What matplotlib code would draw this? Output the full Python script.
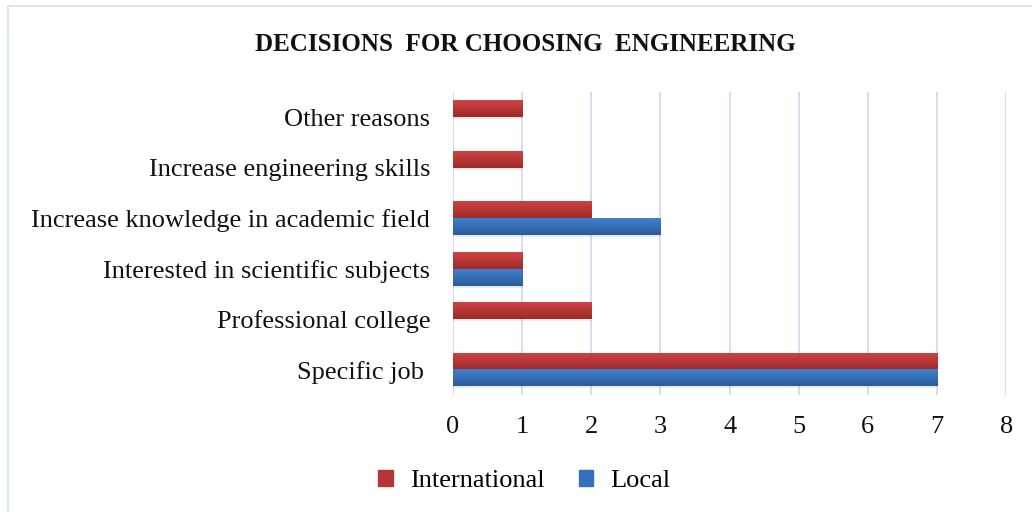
import matplotlib
matplotlib.use("Agg")
import matplotlib.pyplot as plt
import numpy as np
from matplotlib.colors import LinearSegmentedColormap
from matplotlib.patches import Rectangle

# Dati
categorie = ["Specific job ", "Professional college", "Interested in scientific subjects",
             "Increase knowledge in academic field", "Increase engineering skills", "Other reasons"]
international = [7, 2, 1, 2, 1, 1]
local = [7, 0, 1, 3, 0, 0]
tick_x = [0, 1, 2, 3, 4, 5, 6, 7, 8]

plt.rcParams["font.family"] = ["Liberation Serif", "DejaVu Serif"]

fig = plt.figure(figsize=(10.32, 5.12), dpi=100)
ax = fig.add_axes([0.439, 0.229, 0.536, 0.591])

# Bordo della figura
fig.patches.append(Rectangle((0.008, -0.01), 1.2, 0.999, transform=fig.transFigure,
                             fill=False, edgecolor="#D5E0EE", linewidth=1.2))

y = np.arange(len(categorie))
h = 0.336
barre_int = ax.barh(y + h / 2, international, height=h, color="#C83A3A", zorder=2)
barre_loc = ax.barh(y - h / 2, local, height=h, color="#3A72BE", zorder=2)

# Sfumatura verticale stile Excel
grad_rosso = LinearSegmentedColormap.from_list("r", ["#9C2A2A", "#D04242"])
grad_blu = LinearSegmentedColormap.from_list("b", ["#2C5C98", "#3F7FCF"])
grad = np.linspace(0, 1, 50).reshape(-1, 1)
for barre, cmap in [(barre_int, grad_rosso), (barre_loc, grad_blu)]:
    for b in barre:
        if b.get_width() <= 0:
            continue
        x0, y0 = b.get_x(), b.get_y()
        ax.imshow(grad, cmap=cmap, origin="lower", aspect="auto",
                  extent=[x0, x0 + b.get_width(), y0, y0 + b.get_height()], zorder=3)
        # ombra leggera
        ax.add_patch(Rectangle((x0, y0 - 0.04), b.get_width(), 0.04,
                               color="#000000", alpha=0.08, linewidth=0, zorder=1))

ax.set_xlim(0, 8)
ax.set_ylim(-0.5, len(categorie) - 0.5)
ax.set_xticks(tick_x)
ax.set_yticks(y)
ax.set_yticklabels(categorie)
ax.tick_params(axis="both", length=0, labelsize=19, colors="#111111")
ax.tick_params(axis="y", pad=16.5)
ax.tick_params(axis="x", pad=15)
ax.grid(axis="x", color="#CCDAEE", linewidth=1.2, zorder=0)
ax.set_axisbelow(True)
for s in ax.spines.values():
    s.set_visible(False)

fig.text(0.509, 0.913, "DECISIONS  FOR CHOOSING  ENGINEERING", ha="center", va="center",
         fontsize=18, fontweight="bold", color="#111111")

handles = [Rectangle((0, 0), 1, 1, color="#B53535"), Rectangle((0, 0), 1, 1, color="#3570BB")]
fig.legend(handles, ["International", "Local"], loc="center", bbox_to_anchor=(0.508, 0.06),
           ncol=2, frameon=False, fontsize=19, handlelength=0.55, handleheight=0.55,
           handletextpad=0.65, columnspacing=1.3)

fig.savefig("out.png", dpi=100, facecolor="white")
